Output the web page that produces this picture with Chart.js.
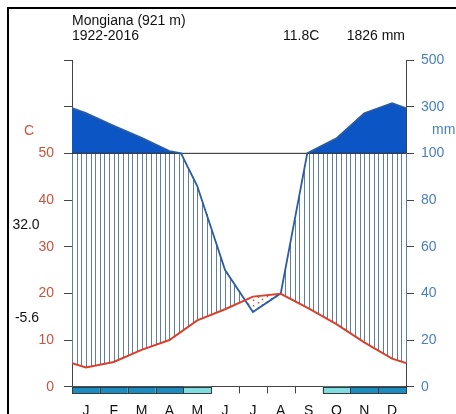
<!DOCTYPE html>
<html><head><meta charset="utf-8">
<script src="https://cdn.jsdelivr.net/npm/chart.js@4"></script>
<style>html,body{margin:0;padding:0;background:#fff;overflow:hidden}canvas{display:block}</style>
</head><body>
<canvas id="c" width="456" height="414"></canvas>
<script>
// ---- data ----
const months = ['J','F','M','A','M','J','J','A','S','O','N','D'];
const tempC  = [4.1, 5.3, 7.9, 10.0, 14.2, 16.6, 19.3, 19.9, 16.8, 13.4, 9.5, 6.0];
const precMm = [272, 218, 166, 110, 86, 50, 32, 40, 103, 164, 272, 315];
const frost  = [2, 2, 2, 2, 1, 0, 0, 0, 0, 1, 2, 2]; // 2 sure, 1 probable, 0 none
const tempTicks = [0, 10, 20, 30, 40, 50];
const precTicks = [0, 20, 40, 60, 80, 100, 300, 500];
const stationName = 'Mongiana (921 m)';
const period = '1922-2016';
const meanTemp = '11.8C';
const totalPrec = '1826 mm';
const absMax = '32.0';
const absMin = '-5.6';

// ---- scale helpers (Walter-Lieth: 20 mm = 10 C, above 100 mm compressed 1/10) ----
const mmToEq = p => p <= 100 ? p / 2 : 50 + (p - 100) / 20;
const eqToMm = e => e <= 50 ? e * 2 : 100 + (e - 50) * 20;

const xs = [0, ...months.map((_, i) => i + 0.5), 12];
const tEdge = (tempC[11] + tempC[0]) / 2;
const pEdge = (precMm[11] + precMm[0]) / 2;
const tExt = [tEdge, ...tempC, tEdge];
const pExt = [pEdge, ...precMm, pEdge];

function interp(arr, x) {
  for (let i = 0; i < xs.length - 1; i++) {
    if (x >= xs[i] && x <= xs[i + 1]) {
      const t = (x - xs[i]) / (xs[i + 1] - xs[i]);
      return arr[i] + t * (arr[i + 1] - arr[i]);
    }
  }
  return arr[arr.length - 1];
}

const precPts = [];
for (let i = 0; i < xs.length; i++) {
  precPts.push({x: xs[i], y: mmToEq(pExt[i])});
  if (i < xs.length - 1 && (pExt[i] - 100) * (pExt[i + 1] - 100) < 0) {
    const t = (100 - pExt[i]) / (pExt[i + 1] - pExt[i]);
    precPts.push({x: xs[i] + t * (xs[i + 1] - xs[i]), y: 50});
  }
}
const fillPts = precPts.map(p => ({x: p.x, y: Math.max(p.y, 50)}));
const tempPts = xs.map((x, i) => ({x, y: tExt[i]}));
const refPts = [{x: 0, y: mmToEq(100)}, {x: 12, y: mmToEq(100)}];
const yTickVals = precTicks.map(mmToEq);

const FONT = "'Liberation Sans', Arial, sans-serif";
const RED = '#c9533f';
const BLUE = '#4a7fbf';

const hatchPlugin = {
  id: 'hatch',
  beforeDatasetsDraw(chart) {
    const {ctx, scales: {x, y}} = chart;
    ctx.save();
    for (let k = 0; k <= 72; k++) {
      const m = k / 6;
      const t = interp(tExt, m);
      const p = Math.min(mmToEq(interp(pExt, m)), 50);
      const px = Math.round(x.getPixelForValue(m)) + 0.5;
      if (p > t) {
        ctx.strokeStyle = '#5f7f9c';
        ctx.lineWidth = 1;
        ctx.setLineDash([]);
        ctx.beginPath();
        ctx.moveTo(px, y.getPixelForValue(t));
        ctx.lineTo(px, y.getPixelForValue(p));
        ctx.stroke();
      } else if (t > p) {
        ctx.strokeStyle = RED;
        ctx.lineWidth = 1.5;
        ctx.setLineDash([1.5, 4]);
        ctx.beginPath();
        ctx.moveTo(px, y.getPixelForValue(p));
        ctx.lineTo(px, y.getPixelForValue(t));
        ctx.stroke();
      }
    }
    ctx.restore();
  }
};

const decoPlugin = {
  id: 'deco',
  beforeDraw(chart) {
    const ctx = chart.ctx;
    ctx.save();
    ctx.fillStyle = '#fff';
    ctx.fillRect(0, 0, chart.width, chart.height);
    ctx.restore();
  },
  afterDraw(chart) {
    const {ctx, scales: {x, y}} = chart;
    const y0 = y.getPixelForValue(0);
    ctx.save();
    // frame
    ctx.strokeStyle = '#000';
    ctx.lineWidth = 2;
    ctx.beginPath();
    ctx.moveTo(8, chart.height);
    ctx.lineTo(8, 8);
    ctx.lineTo(chart.width, 8);
    ctx.stroke();
    // month ticks
    ctx.strokeStyle = '#444';
    ctx.lineWidth = 1;
    for (let i = 0; i <= 12; i++) {
      const px = Math.round(x.getPixelForValue(i)) + 0.5;
      ctx.beginPath();
      ctx.moveTo(px, y0);
      ctx.lineTo(px, y0 + 6.7);
      ctx.stroke();
    }
    // frost boxes
    for (let i = 0; i < 12; i++) {
      if (!frost[i]) continue;
      const x1 = x.getPixelForValue(i), x2 = x.getPixelForValue(i + 1);
      ctx.fillStyle = frost[i] === 2 ? '#1a8cc0' : '#7fdde0';
      ctx.fillRect(x1, y0, x2 - x1, 6.7);
      ctx.strokeStyle = '#3a3a3a';
      ctx.strokeRect(Math.round(x1) + 0.5, Math.round(y0) + 0.5, Math.round(x2 - x1), 6);
    }
    // texts
    ctx.font = '14px ' + FONT;
    ctx.textBaseline = 'middle';
    ctx.fillStyle = '#111';
    ctx.textAlign = 'left';
    ctx.fillText(stationName, 72, 21);
    ctx.fillText(period, 72, 36);
    ctx.fillText(meanTemp, 283, 36);
    ctx.textAlign = 'right';
    ctx.fillText(totalPrec, 405, 36);
    ctx.textAlign = 'center';
    ctx.fillText(absMax, 26, 225);
    ctx.fillText(absMin, 27, 318);
    ctx.fillStyle = RED;
    ctx.fillText('C', 29, 131);
    ctx.fillStyle = BLUE;
    ctx.textAlign = 'left';
    ctx.fillText('mm', 432, 130);
    ctx.restore();
  }
};

new Chart(document.getElementById('c'), {
  type: 'line',
  data: {
    datasets: [
      {data: tempPts, borderColor: '#d8412c', borderWidth: 2, pointRadius: 0, fill: false, tension: 0, order: 1},
      {data: precPts, borderColor: '#2a5ca3', borderWidth: 1.8, pointRadius: 0, fill: false, tension: 0, order: 2},
      {data: refPts, borderColor: '#222', borderWidth: 1, pointRadius: 0, fill: false, order: 3},
      {data: fillPts, borderWidth: 0, borderColor: 'rgba(0,0,0,0)', backgroundColor: '#0b55c5', pointRadius: 0, fill: {value: 50}, tension: 0, order: 4}
    ]
  },
  options: {
    responsive: false, animation: false, devicePixelRatio: 1,
    layout: {padding: {top: 60, left: 0, right: 0, bottom: 0}},
    plugins: {legend: {display: false}, tooltip: {enabled: false}},
    scales: {
      x: {
        type: 'linear', min: 0, max: 12, position: 'bottom',
        afterBuildTicks: s => { s.ticks = months.map((_, i) => ({value: i + 0.5})); },
        afterFit: s => { s.height = 414 - 386.7; },
        ticks: {callback: v => months[Math.floor(v)], color: '#111', font: {family: FONT, size: 14}, padding: 8.5, autoSkip: false, maxRotation: 0},
        grid: {display: false},
        border: {display: true, color: '#444', width: 1}
      },
      y: {
        type: 'linear', position: 'left', min: 0, max: 70,
        afterBuildTicks: s => { s.ticks = yTickVals.map(v => ({value: v})); },
        afterFit: s => { s.width = 72; },
        ticks: {callback: v => tempTicks.includes(v) ? String(v) : '', color: RED, font: {family: FONT, size: 14}, padding: 10},
        grid: {drawOnChartArea: false, drawTicks: true, tickLength: 8, color: '#444'},
        border: {display: true, color: '#444', width: 1}
      },
      y2: {
        type: 'linear', position: 'right', min: 0, max: 70,
        afterBuildTicks: s => { s.ticks = yTickVals.map(v => ({value: v})); },
        afterFit: s => { s.width = 50; },
        ticks: {callback: v => String(Math.round(eqToMm(v))), color: BLUE, font: {family: FONT, size: 14}, padding: 7},
        grid: {drawOnChartArea: false, drawTicks: true, tickLength: 8, color: '#444'},
        border: {display: true, color: '#444', width: 1}
      }
    }
  },
  plugins: [decoPlugin, hatchPlugin]
});
</script>
</body></html>
